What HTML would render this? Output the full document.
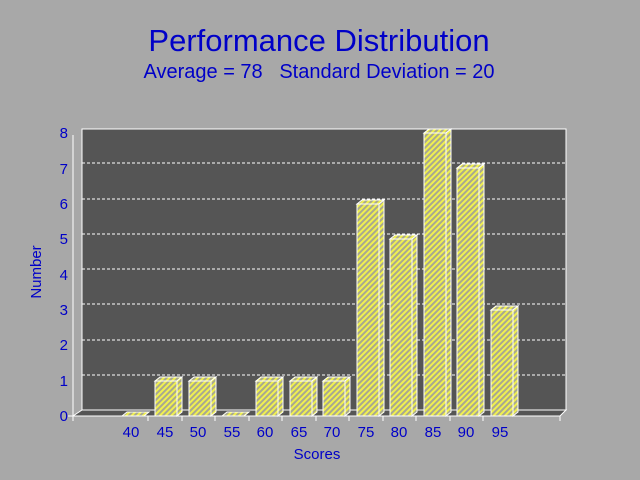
<!DOCTYPE html>
<html><head><style>body{margin:0;background:#a8a8a8}svg{display:block}</style></head><body>
<svg width="640" height="480" xmlns="http://www.w3.org/2000/svg" font-family="Liberation Sans, sans-serif">
<defs>
<pattern id="h" width="4" height="4" patternUnits="userSpaceOnUse" patternTransform="rotate(45)">
<rect width="4" height="4" fill="#f0f050"/><rect width="2" height="4" fill="#a8a890"/></pattern>
</defs>
<rect width="640" height="480" fill="#a8a8a8"/>
<text x="319" y="51" font-size="31" fill="#0000c8" text-anchor="middle">Performance Distribution</text>
<text x="319" y="78" font-size="20" fill="#0000c8" text-anchor="middle" style="white-space:pre">Average = 78   Standard Deviation = 20</text>
<rect x="82" y="129" width="484" height="281" fill="#555555" stroke="#fff" stroke-width="1"/>
<polygon points="73,416 82,410 566,410 560,416" fill="#555" stroke="#fff"/>
<line x1="73" y1="416" x2="73" y2="135" stroke="#fff"/>
<g stroke="#fff" stroke-dasharray="3,2">
<line x1="82" y1="375" x2="566" y2="375"/><line x1="82" y1="340" x2="566" y2="340"/>
<line x1="82" y1="304" x2="566" y2="304"/><line x1="82" y1="269" x2="566" y2="269"/>
<line x1="82" y1="234" x2="566" y2="234"/><line x1="82" y1="199" x2="566" y2="199"/>
<line x1="82" y1="163" x2="566" y2="163"/></g>
<g font-size="15" fill="#0000c8" text-anchor="end">
<text x="68" y="421">0</text><text x="68" y="386">1</text><text x="68" y="350">2</text><text x="68" y="315">3</text><text x="68" y="280">4</text><text x="68" y="244">5</text><text x="68" y="209">6</text><text x="68" y="174">7</text><text x="68" y="138">8</text></g>
<g font-size="15" fill="#0000c8" text-anchor="middle">
<text x="131" y="437">40</text><text x="165" y="437">45</text><text x="198" y="437">50</text><text x="232" y="437">55</text><text x="265" y="437">60</text><text x="299" y="437">65</text><text x="332" y="437">70</text><text x="366" y="437">75</text><text x="399" y="437">80</text><text x="433" y="437">85</text><text x="466" y="437">90</text><text x="500" y="437">95</text>
<text x="317" y="459" font-size="15">Scores</text></g>
<text transform="translate(41,272) rotate(-90)" font-size="15" fill="#0000c8" text-anchor="middle">Number</text>
<g stroke="#fff" stroke-width="1" fill="url(#h)">
<polygon points="122,416 127,412 149,412 144,416"/>
<rect x="155" y="381" width="22" height="35"/><polygon points="155,381 160,377 182,377 177,381"/><polygon points="177,381 182,377 182,412 177,416"/>
<rect x="189" y="381" width="22" height="35"/><polygon points="189,381 194,377 216,377 211,381"/><polygon points="211,381 216,377 216,412 211,416"/>
<polygon points="222,416 227,412 249,412 244,416"/>
<rect x="256" y="381" width="22" height="35"/><polygon points="256,381 261,377 283,377 278,381"/><polygon points="278,381 283,377 283,412 278,416"/>
<rect x="290" y="381" width="22" height="35"/><polygon points="290,381 295,377 317,377 312,381"/><polygon points="312,381 317,377 317,412 312,416"/>
<rect x="323" y="381" width="22" height="35"/><polygon points="323,381 328,377 350,377 345,381"/><polygon points="345,381 350,377 350,412 345,416"/>
<rect x="357" y="204" width="22" height="212"/><polygon points="357,204 362,200 384,200 379,204"/><polygon points="379,204 384,200 384,412 379,416"/>
<rect x="390" y="239" width="22" height="177"/><polygon points="390,239 395,235 417,235 412,239"/><polygon points="412,239 417,235 417,412 412,416"/>
<rect x="424" y="133" width="22" height="283"/><polygon points="424,133 429,129 451,129 446,133"/><polygon points="446,133 451,129 451,412 446,416"/>
<rect x="457" y="168" width="22" height="248"/><polygon points="457,168 462,164 484,164 479,168"/><polygon points="479,168 484,164 484,412 479,416"/>
<rect x="491" y="310" width="22" height="106"/><polygon points="491,310 496,306 518,306 513,310"/><polygon points="513,310 518,306 518,412 513,416"/>
</g>
<g stroke="#fff"><line x1="73" y1="416" x2="73" y2="421"/><line x1="560" y1="416" x2="560" y2="421"/>
<line x1="148" y1="416" x2="148" y2="421"/><line x1="182" y1="416" x2="182" y2="421"/><line x1="215" y1="416" x2="215" y2="421"/><line x1="249" y1="416" x2="249" y2="421"/><line x1="282" y1="416" x2="282" y2="421"/><line x1="316" y1="416" x2="316" y2="421"/><line x1="349" y1="416" x2="349" y2="421"/><line x1="383" y1="416" x2="383" y2="421"/><line x1="416" y1="416" x2="416" y2="421"/><line x1="450" y1="416" x2="450" y2="421"/><line x1="483" y1="416" x2="483" y2="421"/>
<line x1="68" y1="416" x2="73" y2="416"/></g>
</svg>
</body></html>
